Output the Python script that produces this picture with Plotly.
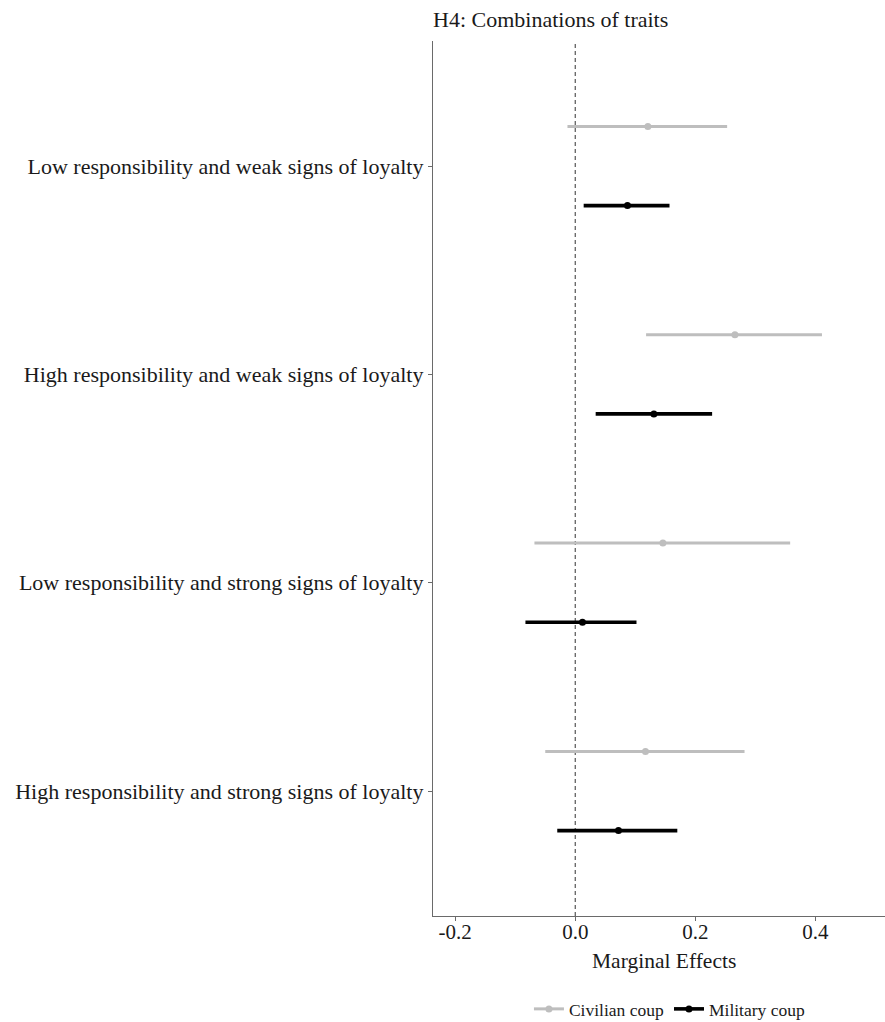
import plotly.graph_objects as go

categories = [
    "Low responsibility and weak signs of loyalty",
    "High responsibility and weak signs of loyalty",
    "Low responsibility and strong signs of loyalty",
    "High responsibility and strong signs of loyalty",
]
civ_est = [0.121, 0.266, 0.146, 0.117]
civ_lo = [-0.013, 0.118, -0.068, -0.050]
civ_hi = [0.253, 0.411, 0.358, 0.282]
mil_est = [0.087, 0.131, 0.012, 0.072]
mil_lo = [0.014, 0.034, -0.083, -0.030]
mil_hi = [0.157, 0.228, 0.102, 0.170]
x_ticks = [-0.2, 0.0, 0.2, 0.4]
x_tick_labels = ["-0.2", "0.0", "0.2", "0.4"]

FONT = "Liberation Serif"
n = len(categories)
pos = [n - i for i in range(n)]
dodge = 0.19

fig = go.Figure()

series = [
    ("Civilian coup", civ_est, civ_lo, civ_hi, "#BEBEBE", +dodge, 3.0, 7),
    ("Military coup", mil_est, mil_lo, mil_hi, "#000000", -dodge, 3.6, 7),
]
for name, est, lo, hi, color, off, lw, ms in series:
    fig.add_trace(go.Scatter(
        x=est, y=[p + off for p in pos], mode="markers",
        marker=dict(color=color, size=ms),
        error_x=dict(type="data", symmetric=False,
                     array=[h - e for h, e in zip(hi, est)],
                     arrayminus=[e - l for e, l in zip(est, lo)],
                     color=color, thickness=lw, width=0),
        showlegend=False, hoverinfo="skip",
    ))
    fig.add_trace(go.Scatter(
        x=[None], y=[None], mode="lines+markers", name=name,
        line=dict(color=color, width=lw), marker=dict(color=color, size=ms),
    ))

fig.add_shape(type="line", xref="x", yref="paper", x0=0, x1=0, y0=0, y1=1,
              line=dict(color="#555555", width=1.2, dash="4px,3px"), layer="below")

fig.add_annotation(text="Marginal Effects", xref="paper", yref="paper",
                   x=0.511, y=-45 / 875,
                   yanchor="middle", xanchor="center", showarrow=False,
                   font=dict(family=FONT, size=21.5, color="#1a1a1a"))

fig.update_layout(
    width=885, height=1022,
    margin=dict(l=433, r=0, t=41, b=106),
    paper_bgcolor="white", plot_bgcolor="white",
    font=dict(family=FONT, color="#1a1a1a"),
    title=dict(text="H4: Combinations of traits", x=433 / 885, xanchor="left",
               xref="container", y=1 - 19 / 1022, yref="container", yanchor="middle",
               font=dict(family=FONT, size=22, color="#1a1a1a")),
    xaxis=dict(range=[-0.237, 0.516], tickvals=x_ticks, ticktext=x_tick_labels,
               showgrid=False, zeroline=False, showline=True, linecolor="#6a6a6a",
               linewidth=1.3, ticks="outside", ticklen=4, tickcolor="#6a6a6a",
               ticklabelstandoff=-7,
               tickfont=dict(family=FONT, size=21, color="#1a1a1a")),
    yaxis=dict(range=[0.4, 4.6], tickvals=pos, ticktext=categories,
               showgrid=False, zeroline=False, showline=True, linecolor="#6a6a6a",
               linewidth=1.3, ticks="outside", ticklen=4, tickcolor="#6a6a6a",
               tickfont=dict(family=FONT, size=22, color="#1a1a1a")),
    legend=dict(orientation="h", xref="container", yref="container",
                x=0.757, xanchor="center", y=1 - 1009 / 1022, yanchor="middle",
                font=dict(family=FONT, size=17.5, color="#1a1a1a"),
                itemwidth=30, bgcolor="rgba(0,0,0,0)"),
)

fig.write_html("out.html", config={"displayModeBar": False},
               post_script="document.body.style.margin='0';")
